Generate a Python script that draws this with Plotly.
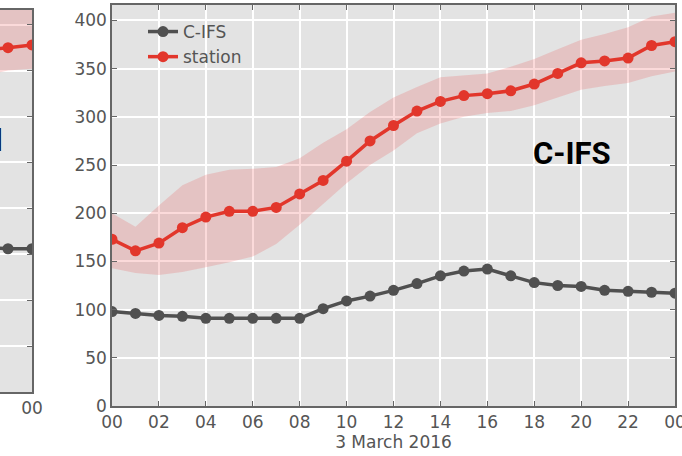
import plotly.graph_objects as go

# ---- data ----
hours = list(range(25))
tick_vals = list(range(0, 25, 2))
tick_text = ["00", "02", "04", "06", "08", "10", "12", "14", "16", "18", "20", "22", "00"]

cifs = [98, 96, 94, 93, 91, 91, 91, 91, 91, 101, 109, 114, 120, 127, 135, 140, 142,
        135, 128, 125, 124, 120, 119, 118, 117]
station = [173, 161, 169, 185, 196, 202, 202, 206, 220, 234, 254, 275, 291, 306, 316,
           322, 324, 327, 334, 345, 356, 358, 361, 374, 378]
station_upper = [200, 186, 208, 229, 240, 245, 246, 248, 257, 273, 287, 305, 320, 331,
                 341, 343, 345, 352, 360, 370, 380, 386, 393, 404, 408]
station_lower = [143, 138, 136, 139, 144, 149, 155, 168, 188, 210, 231, 250, 265, 283,
                 293, 300, 304, 306, 312, 320, 328, 332, 335, 342, 347]

# partial left panel (only its last hours are visible)
left_hours = [21, 22, 23, 24]
left_station = [368, 372, 375, 378]
left_cifs = [160, 158, 156, 156]
left_upper = [410, 415, 420, 425]
left_lower = [340, 345, 350, 352]

RED = "#e2362b"
GRAY = "#505050"
BAND = "rgba(235,70,70,0.20)"
BG = "#e3e3e3"
AX = "#666666"
TXT = "#555555"

W, H = 682, 456

fig = go.Figure()

# main panel
fig.add_trace(go.Scatter(x=hours, y=station_upper, mode="lines", line=dict(width=0),
                         showlegend=False, hoverinfo="skip", xaxis="x", yaxis="y"))
fig.add_trace(go.Scatter(x=hours, y=station_lower, mode="lines", line=dict(width=0),
                         fill="tonexty", fillcolor=BAND, showlegend=False,
                         hoverinfo="skip", xaxis="x", yaxis="y"))
fig.add_trace(go.Scatter(x=hours, y=cifs, mode="lines+markers", name="C-IFS",
                         legendgroup="a", legendrank=1,
                         line=dict(color=GRAY, width=3.5),
                         marker=dict(color=GRAY, size=11), xaxis="x", yaxis="y"))
fig.add_trace(go.Scatter(x=hours, y=station, mode="lines+markers", name="station",
                         legendgroup="b", legendrank=2,
                         line=dict(color=RED, width=3.5),
                         marker=dict(color=RED, size=11), xaxis="x", yaxis="y"))

# left partial panel
fig.add_trace(go.Scatter(x=left_hours, y=left_upper, mode="lines", line=dict(width=0),
                         showlegend=False, hoverinfo="skip", xaxis="x2", yaxis="y2"))
fig.add_trace(go.Scatter(x=left_hours, y=left_lower, mode="lines", line=dict(width=0),
                         fill="tonexty", fillcolor=BAND, showlegend=False,
                         hoverinfo="skip", xaxis="x2", yaxis="y2"))
fig.add_trace(go.Scatter(x=left_hours, y=left_cifs, mode="lines+markers",
                         line=dict(color=GRAY, width=3.5), marker=dict(color=GRAY, size=11),
                         showlegend=False, xaxis="x2", yaxis="y2"))
fig.add_trace(go.Scatter(x=left_hours, y=left_station, mode="lines+markers",
                         line=dict(color=RED, width=3.5), marker=dict(color=RED, size=11),
                         showlegend=False, xaxis="x2", yaxis="y2"))

common = dict(showline=True, linecolor=AX, linewidth=1.5, ticks="inside", ticklen=5,
              tickcolor=AX, tickwidth=1, showgrid=True, gridcolor="white", gridwidth=1.5,
              zeroline=False, automargin=False, ticklabeloverflow="allow",
              tickfont=dict(family="DejaVu Sans", size=17, color=TXT))

fig.update_layout(
    template="none",
    width=W, height=H, autosize=False,
    margin=dict(l=0, r=0, t=0, b=0),
    paper_bgcolor="white", plot_bgcolor=BG,
    font=dict(family="DejaVu Sans", size=17, color=TXT),
    xaxis=dict(domain=[112 / W, 675 / W], range=[0, 24], tickvals=tick_vals,
               ticktext=tick_text, mirror="ticks", anchor="y",
               title=dict(text="3 March 2016", font=dict(size=17, color=TXT), standoff=4),
               **common),
    yaxis=dict(domain=[50 / H, 451 / H], range=[0, 416], tickvals=list(range(0, 401, 50)),
               mirror="ticks", anchor="x", **common),
    xaxis2=dict(domain=[0, 32 / W], range=[24 - 32 / 24, 24], tickvals=[22, 24],
                ticktext=["22", "00"], mirror="ticks", anchor="y2", **common),
    yaxis2=dict(domain=[64 / H, 446 / H], range=[0, 416], tickvals=list(range(0, 401, 50)),
                side="right", showticklabels=False, anchor="x2", **common),
    legend=dict(x=143 / W, y=1 - 14 / H, xanchor="left", yanchor="top",
                bgcolor="rgba(0,0,0,0)", font=dict(size=17, color=TXT),
                itemwidth=30, tracegroupgap=6, traceorder="normal"),
    annotations=[
        dict(text="<b>C-IFS</b>", x=572 / W, y=1 - 153 / H, xref="paper", yref="paper",
             showarrow=False, font=dict(family="Roboto", size=31, color="black"),
             xanchor="center", yanchor="middle"),
        dict(text="<b>d</b>", x=4 / W, y=1 - 140 / H, xref="paper", yref="paper",
             showarrow=False, font=dict(family="Roboto", size=31, color="black"),
             xanchor="right", yanchor="middle"),
    ],
)

fig.write_html("out.html")
